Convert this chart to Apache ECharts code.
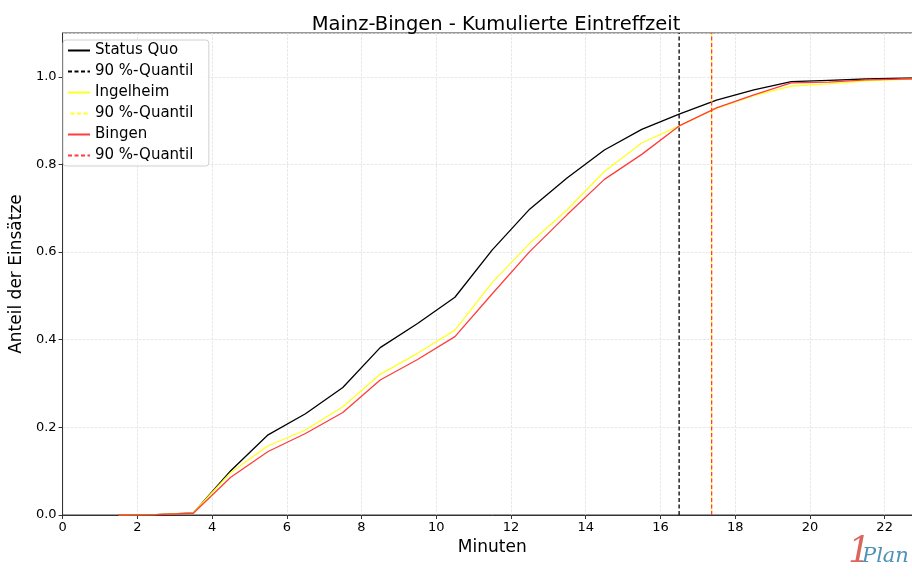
<!DOCTYPE html>
<html>
<head>
<meta charset="utf-8">
<title>Mainz-Bingen - Kumulierte Eintreffzeit</title>
<script src="https://cdn.jsdelivr.net/npm/echarts@6/dist/echarts.min.js"></script>
<style>
  html, body { margin: 0; padding: 0; background: #fff; overflow: hidden; }
  /* the axes run to 23 min, which lies a little past the right edge of the window */
  #chart { width: 922px; height: 579px; }
</style>
</head>
<body>
<div id="chart"></div>
<script>
// minutes (bin centres)
const minutes = [1.5, 2.5, 3.5, 4.5, 5.5, 6.5, 7.5, 8.5, 9.5, 10.5, 11.5, 12.5,
  13.5, 14.5, 15.5, 16.5, 17.5, 18.5, 19.5, 20.5, 21.5, 22.5, 23.5];

// cumulative share per scenario
const statusQuo = [0, 0.001, 0.005, 0.101, 0.183, 0.231, 0.291, 0.382, 0.437, 0.497,
  0.605, 0.698, 0.769, 0.833, 0.880, 0.915, 0.947, 0.970, 0.989, 0.992, 0.995, 0.997, 0.998];
const ingelheim = [0, 0.001, 0.005, 0.097, 0.158, 0.194, 0.247, 0.321, 0.369, 0.422,
  0.531, 0.620, 0.696, 0.784, 0.849, 0.888, 0.928, 0.957, 0.979, 0.984, 0.991, 0.994, 0.995];
const bingen = [0, 0.001, 0.004, 0.086, 0.145, 0.186, 0.234, 0.308, 0.355, 0.407,
  0.505, 0.601, 0.685, 0.766, 0.823, 0.888, 0.929, 0.959, 0.986, 0.988, 0.993, 0.995, 0.996];

// 90 % quantiles (minutes)
const quantileStatusQuo = 16.5;
const quantileIngelheim = 17.37;
const quantileBingen = 17.37;

const xTicks = [0, 2, 4, 6, 8, 10, 12, 14, 16, 18, 20, 22];
const yTicks = [0, 0.2, 0.4, 0.6, 0.8, 1.0];

const font = 'DejaVu Sans';
const chart = echarts.init(document.getElementById('chart'));

function curve(name, values, color) {
  return {
    name: name,
    type: 'line',
    data: minutes.map((m, i) => [m, values[i]]),
    showSymbol: false,
    symbol: 'none',
    lineStyle: { color: color, width: 1.3 },
    itemStyle: { color: color },
    z: 3,
  };
}

function quantile(name, q, color, z, offset) {
  return {
    name: name,
    type: 'line',
    data: [[q, 0], [q, 1.1]],
    showSymbol: false,
    symbol: 'none',
    lineStyle: { color: color, width: 1.3, type: [4, 2.5], dashOffset: offset || 0 },
    itemStyle: { color: color },
    z: z,
  };
}

chart.setOption({
  animation: false,
  backgroundColor: '#fff',
  title: {
    text: 'Mainz-Bingen - Kumulierte Eintreffzeit',
    left: 491,
    textAlign: 'center',
    top: 10,
    textStyle: { fontFamily: font, fontSize: 19.5, fontWeight: 'normal', color: '#000' },
  },
  grid: {
    left: 59, right: 0, top: 33, bottom: 64,
    show: true, borderColor: '#333', borderWidth: 1,
  },
  legend: {
    orient: 'vertical',
    left: 63, top: 40,
    backgroundColor: 'rgba(255,255,255,0.85)',
    borderColor: '#d0d0d0', borderWidth: 1, borderRadius: 3,
    padding: [3, 6, 3, 4],
    itemWidth: 22, itemHeight: 14, itemGap: 6,
    itemStyle: { opacity: 0 },
    textStyle: { fontFamily: font, fontSize: 15, color: '#000' },
    data: ['Status Quo', '90 %-Quantil', 'Ingelheim', '90 %-Quantil ', 'Bingen', '90 %-Quantil  '],
  },
  xAxis: {
    type: 'value',
    min: 0, max: 23, interval: 2,
    name: 'Minuten',
    nameLocation: 'middle',
    nameGap: 23,
    nameTextStyle: { fontFamily: font, fontSize: 17, color: '#000' },
    axisLine: { show: true, onZero: false, lineStyle: { color: '#333' } },
    axisTick: { show: true, length: 4, lineStyle: { color: '#333' } },
    axisLabel: {
      fontFamily: font, fontSize: 13, color: '#000', margin: 6,
      showMaxLabel: false,
      formatter: v => (xTicks.includes(v) ? String(v) : ''),
    },
    splitLine: { show: true, lineStyle: { color: '#e3e3e3', width: 0.8, type: [3, 1] } },
  },
  yAxis: {
    type: 'value',
    min: 0, max: 1.1, interval: 0.2,
    name: 'Anteil der Einsätze',
    nameLocation: 'middle',
    nameGap: 32,
    nameTextStyle: { fontFamily: font, fontSize: 17, color: '#000' },
    axisLine: { show: true, lineStyle: { color: '#333' } },
    axisTick: { show: true, length: 4, lineStyle: { color: '#333' } },
    axisLabel: {
      fontFamily: font, fontSize: 13, color: '#000', margin: 6,
      showMaxLabel: false,
      formatter: v => (yTicks.some(t => Math.abs(t - v) < 1e-9) ? v.toFixed(1) : ''),
    },
    splitLine: { show: true, lineStyle: { color: '#e3e3e3', width: 0.8, type: [3, 1] } },
  },
  series: [
    curve('Status Quo', statusQuo, '#000000'),
    quantile('90 %-Quantil', quantileStatusQuo, '#000000', 4),
    curve('Ingelheim', ingelheim, '#ffff22'),
    quantile('90 %-Quantil ', quantileIngelheim, '#ffff22', 4, 4),
    curve('Bingen', bingen, '#ff3d3d'),
    quantile('90 %-Quantil  ', quantileBingen, '#ff3d3d', 5),
  ],
  graphic: [
    {
      type: 'text', left: 848, top: 535,
      style: { text: '1', fontFamily: 'DejaVu Serif', fontStyle: 'italic', fontSize: 36, fill: '#d9675c' },
    },
    {
      type: 'text', left: 862, top: 546,
      style: { text: 'Plan', fontFamily: 'DejaVu Serif', fontStyle: 'italic', fontSize: 21, fill: '#4d93b6' },
    },
  ],
});
</script>
</body>
</html>
